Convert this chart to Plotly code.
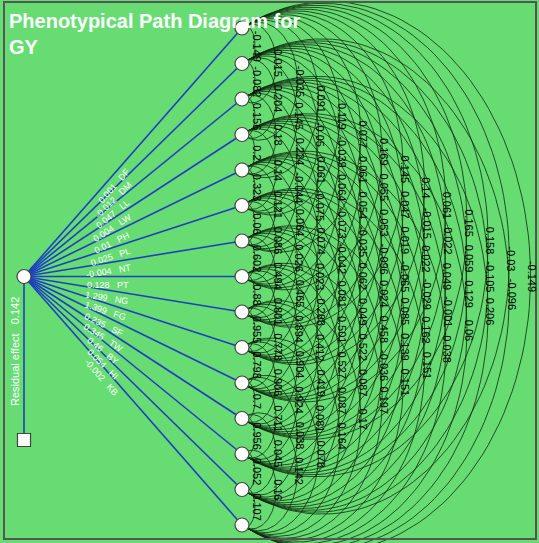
import numpy as np
import plotly.graph_objects as go

# ---------------- data ----------------
traits = ["DF", "DM", "LL", "LW", "PH", "PL", "NT", "PT", "NG", "FG", "SF", "TW", "BY", "HI", "KB"]
direct_effects = [0.001, -0.012, 0.047, 0.004, 0.01, 0.025, -0.004, 0.128, 1.299, 1.399,
                  0.235, 0.345, 0.46, 0.054, -0.002]
residual_effect = 0.142
title_text = "<b>Phenotypical Path Diagram for<br>GY</b>"

# correlations between trait i and trait i+gap, listed by gap
r_gap1 = [-0.149, -0.082, 0.156, 0.2, 0.323, 0.06, 0.602, 0.88, 0.955, 0.798, 0.7, 0.956, 0.052, 0.107]
r_gap2 = [0.015, 0.204, 0.18, 0.14, 0.121, 0.086, 0.494, 0.801, 0.778, 0.906, 0.711, 0.045, 0.16]
r_gap3 = [-0.035, 0.145, 0.224, -0.044, 0.064, 0.026, 0.465, 0.894, 0.904, 0.924, 0.038, 0.142]
r_gap4 = [0.091, -0.05, 0.061, -0.075, 0.074, 0.023, 0.288, 0.412, 0.419, 0.081, 0.078]
r_gap5 = [0.119, -0.039, 0.064, -0.073, -0.042, 0.081, 0.501, 0.527, 0.087, 0.164]
r_gap6 = [0.077, 0.061, 0.054, -0.035, 0.062, 0.049, 0.522, 0.087, 0.17]
r_gap7 = [0.169, 0.055, 0.053, -0.096, 0.024, 0.458, -0.036, 0.197]
r_gap8 = [0.145, 0.047, 0.019, -0.065, 0.085, 0.139, 0.151]
r_gap9 = [0.14, -0.015, 0.022, -0.029, 0.162, 0.151]
r_gap10 = [0.061, 0.022, 0.049, -0.001, -0.038]
r_gap11 = [0.165, 0.059, 0.129, 0.06]
r_gap12 = [0.158, -0.105, 0.206]
r_gap13 = [-0.03, -0.096]
r_gap14 = [-0.149]
corr_by_gap = [r_gap1, r_gap2, r_gap3, r_gap4, r_gap5, r_gap6, r_gap7, r_gap8,
               r_gap9, r_gap10, r_gap11, r_gap12, r_gap13, r_gap14]

# ---------------- layout geometry ----------------
W, H = 539, 543
BG = "#66DC73"
n = len(traits)
node_x = 242.0
y_top, y_bot = 28.0, 525.0
node_y = np.linspace(y_top, y_bot, n)
src_x, src_y = 24.0, float(node_y[(n - 1) // 2])
res_y = 440.0

label_x0, label_dx = 257.0, 21.2
arc_inset = 2.0
center_frac = 0.3   # ellipse centre shifted right of the node column

fig = go.Figure()

# arcs (correlations)
ax, ay = [], []
annotations = []
for gi, vals in enumerate(corr_by_gap):
    k = gi + 1
    lx = label_x0 + gi * label_dx
    A = lx - arc_inset
    w = A - node_x
    for i, v in enumerate(vals):
        y1, y2 = node_y[i], node_y[i + k]
        b = (y2 - y1) / 2.0
        cy = (y1 + y2) / 2.0
        cx = node_x + center_frac * w
        a = (1 - center_frac) * w
        c0 = (node_x - cx) / a
        B = b / np.sqrt(1 - c0 * c0)
        t0 = np.arccos(c0)
        th = np.linspace(-t0, t0, 90)
        ax += list(cx + a * np.cos(th)) + [None]
        ay += list(cy + B * np.sin(th)) + [None]
        annotations.append(dict(x=lx, y=cy, text=f"{v:g}", showarrow=False, textangle=90,
                                font=dict(size=11, color="black",
                                          family="Liberation Sans Narrow, Arial Narrow, Arial"),
                                xanchor="center", yanchor="middle"))

fig.add_trace(go.Scatter(x=ax, y=ay, mode="lines", line=dict(color="rgba(15,45,15,0.9)", width=0.9),
                         hoverinfo="skip", showlegend=False))

# path lines
lx_, ly_ = [], []
for y in node_y:
    lx_ += [src_x, node_x, None]
    ly_ += [src_y, y, None]
fig.add_trace(go.Scatter(x=lx_, y=ly_, mode="lines", line=dict(color="#1f3fbf", width=1.6),
                         hoverinfo="skip", showlegend=False))
# residual line
fig.add_trace(go.Scatter(x=[src_x, src_x], y=[src_y, res_y], mode="lines",
                         line=dict(color="#1f3fbf", width=1.6), hoverinfo="skip", showlegend=False))

# nodes
fig.add_trace(go.Scatter(x=[node_x] * n + [src_x], y=list(node_y) + [src_y], mode="markers",
                         marker=dict(symbol="circle", size=14, color="white",
                                     line=dict(color="#444444", width=1.2)),
                         hoverinfo="skip", showlegend=False))
fig.add_trace(go.Scatter(x=[src_x], y=[res_y], mode="markers",
                         marker=dict(symbol="square", size=13, color="white",
                                     line=dict(color="#444444", width=1.2)),
                         hoverinfo="skip", showlegend=False))

# direct effect labels along lines
for name, v, y in zip(traits, direct_effects, node_y):
    dx, dy = node_x - src_x, y - src_y
    L = np.hypot(dx, dy)
    ux, uy = dx / L, dy / L
    nx, ny = -uy, ux
    t = (108 - src_x) / ux
    px, py = src_x + t * ux + 8 * nx, src_y + t * uy + 8 * ny
    ang = np.degrees(np.arctan2(dy, dx))
    annotations.append(dict(x=px, y=py, text=f"{v:g}\u00a0\u00a0\u00a0{name}", showarrow=False,
                            textangle=ang, font=dict(size=9, color="white", family="Arial"),
                            xanchor="center", yanchor="middle"))

annotations.append(dict(x=15, y=352, text=f"Residual effect\u00a0\u00a0\u00a0{residual_effect:g}",
                        showarrow=False, textangle=-90,
                        font=dict(size=11, color="white", family="Arial"),
                        xanchor="center", yanchor="middle"))
annotations.append(dict(x=7, y=8, text=title_text, showarrow=False, align="left",
                        xanchor="left", yanchor="top",
                        font=dict(size=20, color="white", family="Arial")))

fig.update_layout(
    width=W, height=H, margin=dict(l=0, r=0, t=0, b=0),
    paper_bgcolor=BG, plot_bgcolor=BG,
    xaxis=dict(range=[0, W], visible=False, fixedrange=True),
    yaxis=dict(range=[H, 0], visible=False, fixedrange=True),
    annotations=annotations,
    shapes=[dict(type="rect", x0=4, y0=2, x1=536, y1=539, line=dict(color="#555555", width=2),
                 fillcolor="rgba(0,0,0,0)", layer="above")],
)
fig.write_html("out.html", config={"displayModeBar": False, "staticPlot": True},
               post_script="document.body.style.margin='0px';")
